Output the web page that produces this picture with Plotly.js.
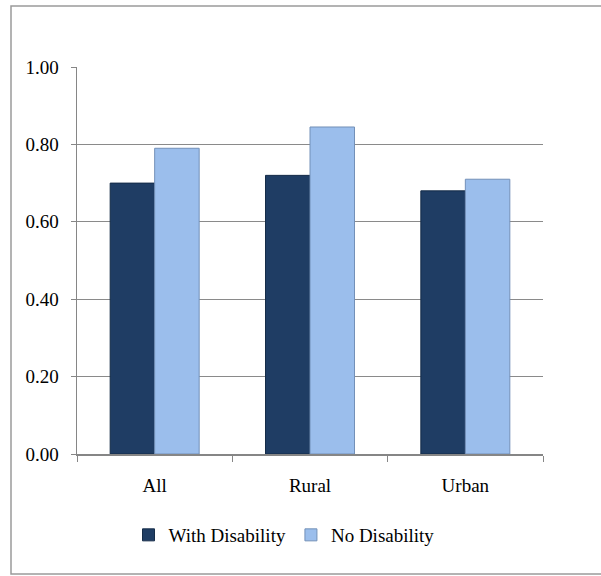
<!DOCTYPE html>
<html>
<head>
<meta charset="utf-8">
<script src="https://cdn.plot.ly/plotly-3.0.1.min.js"></script>
<style>
  html, body { margin: 0; padding: 0; background: #fff; }
  #chart { width: 601px; height: 576px; }
</style>
</head>
<body>
<div id="chart"></div>
<script>
const categories = ["All", "Rural", "Urban"];
const withDisability = [0.70, 0.72, 0.68];
const noDisability = [0.79, 0.845, 0.71];
const seriesNames = ["With Disability", "No Disability"];
const yTickVals = [0, 0.2, 0.4, 0.6, 0.8, 1.0];
const yTickText = ["0.00", "0.20", "0.40", "0.60", "0.80", "1.00"];

const font = { family: "Liberation Serif, Times New Roman, serif", size: 19, color: "#000" };

const traces = [
  {
    type: "bar", name: seriesNames[0], x: categories, y: withDisability,
    marker: { color: "#1f3d64", line: { color: "#152c48", width: 1 } },
    hoverinfo: "none"
  },
  {
    type: "bar", name: seriesNames[1], x: categories, y: noDisability,
    marker: { color: "#9bbeec", line: { color: "#7390b8", width: 1 } },
    hoverinfo: "none"
  }
];

const L = 77, R = 58, T = 67, B = 122;
const W = 601 - L - R, H = 576 - T - B;
function px(x) { return (x - L) / W; }
function py(y) { return (576 - B - y) / H; }

const layout = {
  width: 601, height: 576,
  margin: { l: L, r: R, t: T, b: B, pad: 0 },
  paper_bgcolor: "#fff", plot_bgcolor: "#fff",
  font: font,
  barmode: "group", bargap: 0.427, bargroupgap: 0,
  showlegend: true,
  legend: {
    orientation: "h", x: px(284), xanchor: "center", y: py(535), yanchor: "middle",
    font: font, bgcolor: "rgba(0,0,0,0)", itemwidth: 30, tracegroupgap: 0
  },
  xaxis: {
    type: "category",
    showline: true, linecolor: "#868686", linewidth: 1.5,
    ticks: "outside", ticklen: 6, tickcolor: "#868686", tickwidth: 1,
    tickson: "boundaries",
    ticklabelstandoff: 14,
    showgrid: false, zeroline: false,
    tickfont: font, fixedrange: true
  },
  yaxis: {
    range: [0, 1],
    tickvals: yTickVals, ticktext: yTickText,
    showline: true, linecolor: "#868686", linewidth: 1.5,
    ticks: "outside", ticklen: 5, tickcolor: "#868686", tickwidth: 1,
    ticklabelstandoff: 8,
    showgrid: true, gridcolor: "#8a8a8a", gridwidth: 1,
    zeroline: false,
    tickfont: font, fixedrange: true
  },
  shapes: [
    {
      type: "rect", xref: "paper", yref: "paper",
      x0: px(11), x1: px(640), y0: py(574), y1: py(6),
      line: { color: "#9a9a9a", width: 1.5 }, fillcolor: "rgba(0,0,0,0)", layer: "below"
    }
  ]
};

Plotly.newPlot("chart", traces, layout, { displayModeBar: false, staticPlot: true });
</script>
</body>
</html>
